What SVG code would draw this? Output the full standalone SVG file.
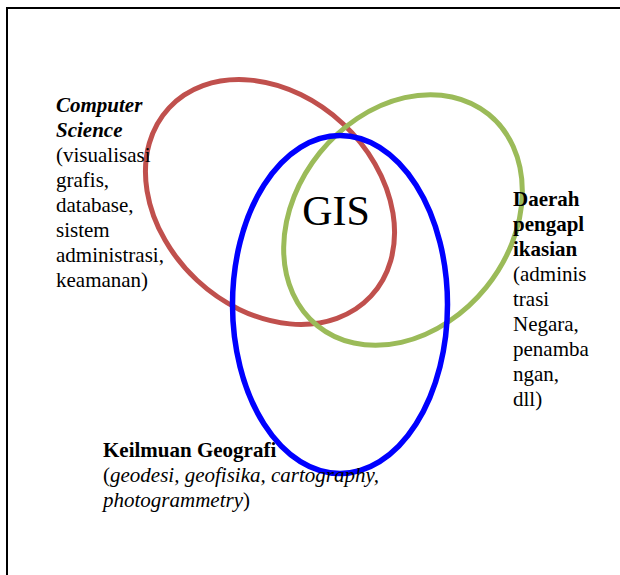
<svg xmlns="http://www.w3.org/2000/svg" width="620" height="575" viewBox="0 0 620 575">
<style>
.t{font-family:"Liberation Serif","Times New Roman",serif;font-size:21px;fill:#000}
.b{font-weight:bold}
.i{font-style:italic}
.ring{fill:none}
</style>
<rect x="0" y="0" width="620" height="575" fill="#fff"/>
<path d="M7 575 V8 H620" fill="none" stroke="#000" stroke-width="2"/>
<g id="connectors"></g>
<g id="computer-science">
<ellipse class="ring" cx="270" cy="202" rx="138" ry="107" transform="rotate(43 270 202)" stroke="#C0504D" stroke-width="5"/>
<text class="t" x="56"><tspan class="b i" x="56" y="112">Computer</tspan><tspan class="b i" x="56" y="137">Science</tspan><tspan x="56" y="162">(visualisasi</tspan><tspan x="56" y="187">grafis,</tspan><tspan x="56" y="212">database,</tspan><tspan x="56" y="237">sistem</tspan><tspan x="56" y="262">administrasi,</tspan><tspan x="56" y="287">keamanan)</tspan></text>
</g>
<g id="daerah-pengaplikasian">
<ellipse class="ring" cx="403" cy="220" rx="136" ry="107" transform="rotate(-51 403 220)" stroke="#9BBB59" stroke-width="5"/>
<text class="t"><tspan class="b" x="513" y="206">Daerah</tspan><tspan class="b" x="513" y="231">pengapl</tspan><tspan class="b" x="513" y="256">ikasian</tspan><tspan x="513" y="281">(adminis</tspan><tspan x="513" y="306">trasi</tspan><tspan x="513" y="331">Negara,</tspan><tspan x="513" y="356">penamba</tspan><tspan x="513" y="381">ngan,</tspan><tspan x="513" y="406">dll)</tspan></text>
</g>
<g id="keilmuan-geografi">
<ellipse class="ring" cx="340" cy="304.5" rx="107.5" ry="169" stroke="#0000FF" stroke-width="5.5"/>
<text class="t"><tspan class="b" x="103" y="457">Keilmuan Geografi</tspan><tspan x="103" y="482">(<tspan class="i">geodesi, geofisika, cartography,</tspan></tspan><tspan x="103" y="507" class="i">photogrammetry</tspan><tspan>)</tspan></text>
</g>
<g id="gis">
<text class="t" x="336" y="225" text-anchor="middle" style="font-size:42px">GIS</text>
</g>
</svg>
